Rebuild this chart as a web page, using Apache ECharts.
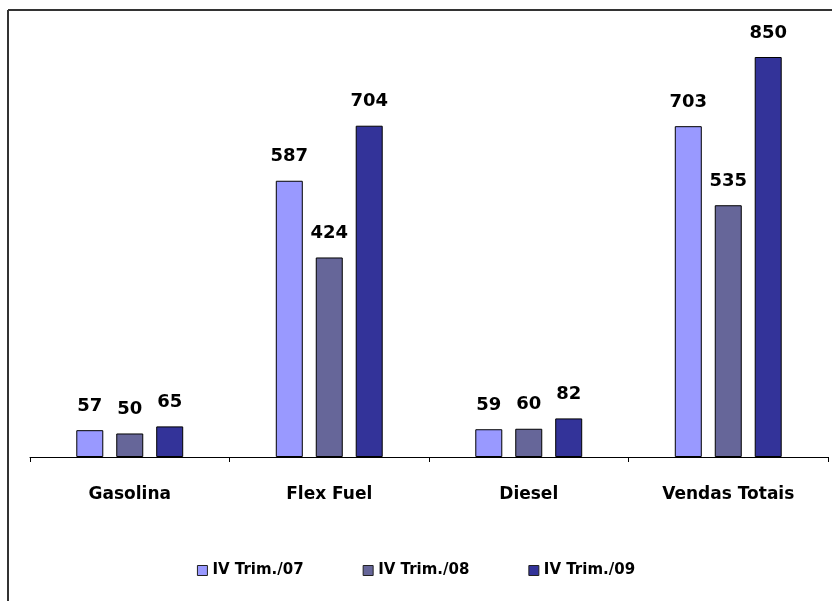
<!DOCTYPE html>
<html>
<head>
<meta charset="utf-8">
<script src="https://cdn.jsdelivr.net/npm/echarts@6/dist/echarts.min.js"></script>
<style>
  html, body { margin: 0; padding: 0; background: #fff; }
  #main { width: 832px; height: 601px; }
</style>
</head>
<body>
<div id="main"></div>
<script>
// categorias e series
var categorias = ['Gasolina', 'Flex Fuel', 'Diesel', 'Vendas Totais'];
var nomesSeries = ['IV Trim./07', 'IV Trim./08', 'IV Trim./09'];
var trim07 = [57, 587, 59, 703];
var trim08 = [50, 424, 60, 535];
var trim09 = [65, 704, 82, 850];
var cores = ['#9999FF', '#666699', '#333399'];

var chart = echarts.init(document.getElementById('main'));

function serie(nome, dados, cor) {
  return {
    name: nome,
    type: 'bar',
    data: dados,
    barWidth: 27,
    barGap: '48%',
    itemStyle: {
      color: cor,
      borderColor: '#000',
      borderWidth: 1
    },
    label: {
      show: true,
      position: 'top',
      distance: 15,
      color: '#000',
      fontFamily: 'DejaVu Sans',
      fontWeight: 'bold',
      fontSize: 18
    }
  };
}

var option = {
  animation: false,
  color: cores,
  //borda esquerda e superior
  graphic: [
    { type: 'line', shape: { x1: 8, y1: 10, x2: 832, y2: 10 }, style: { stroke: '#333', lineWidth: 2 } },
    { type: 'line', shape: { x1: 8, y1: 10, x2: 8, y2: 601 }, style: { stroke: '#333', lineWidth: 2 } }
  ],
  legend: {
    data: nomesSeries,
    bottom: 18,
    left: 'center',
    itemWidth: 10,
    itemHeight: 10,
    itemGap: 59,
    icon: 'rect',
    itemStyle: { borderColor: '#222', borderWidth: 1 },
    textStyle: {
      fontFamily: 'DejaVu Sans',
      fontWeight: 'bold',
      fontSize: 15,
      color: '#000'
    }
  },
  grid: {
    left: 30,
    right: 4,
    top: 57,
    bottom: 144
  },
  xAxis: {
    type: 'category',
    data: categorias,
    axisLine: { lineStyle: { color: '#000', width: 1 } },
    axisTick: { show: true, length: 5, lineStyle: { color: '#000' } },
    axisLabel: {
      margin: 29,
      color: '#000',
      fontFamily: 'DejaVu Sans',
      fontWeight: 'bold',
      fontSize: 17
    }
  },
  yAxis: {
    type: 'value',
    min: 0,
    max: 850,
    show: false
  },
  series: [
    serie(nomesSeries[0], trim07, cores[0]),
    serie(nomesSeries[1], trim08, cores[1]),
    serie(nomesSeries[2], trim09, cores[2])
  ]
};
chart.setOption(option);
</script>
</body>
</html>
